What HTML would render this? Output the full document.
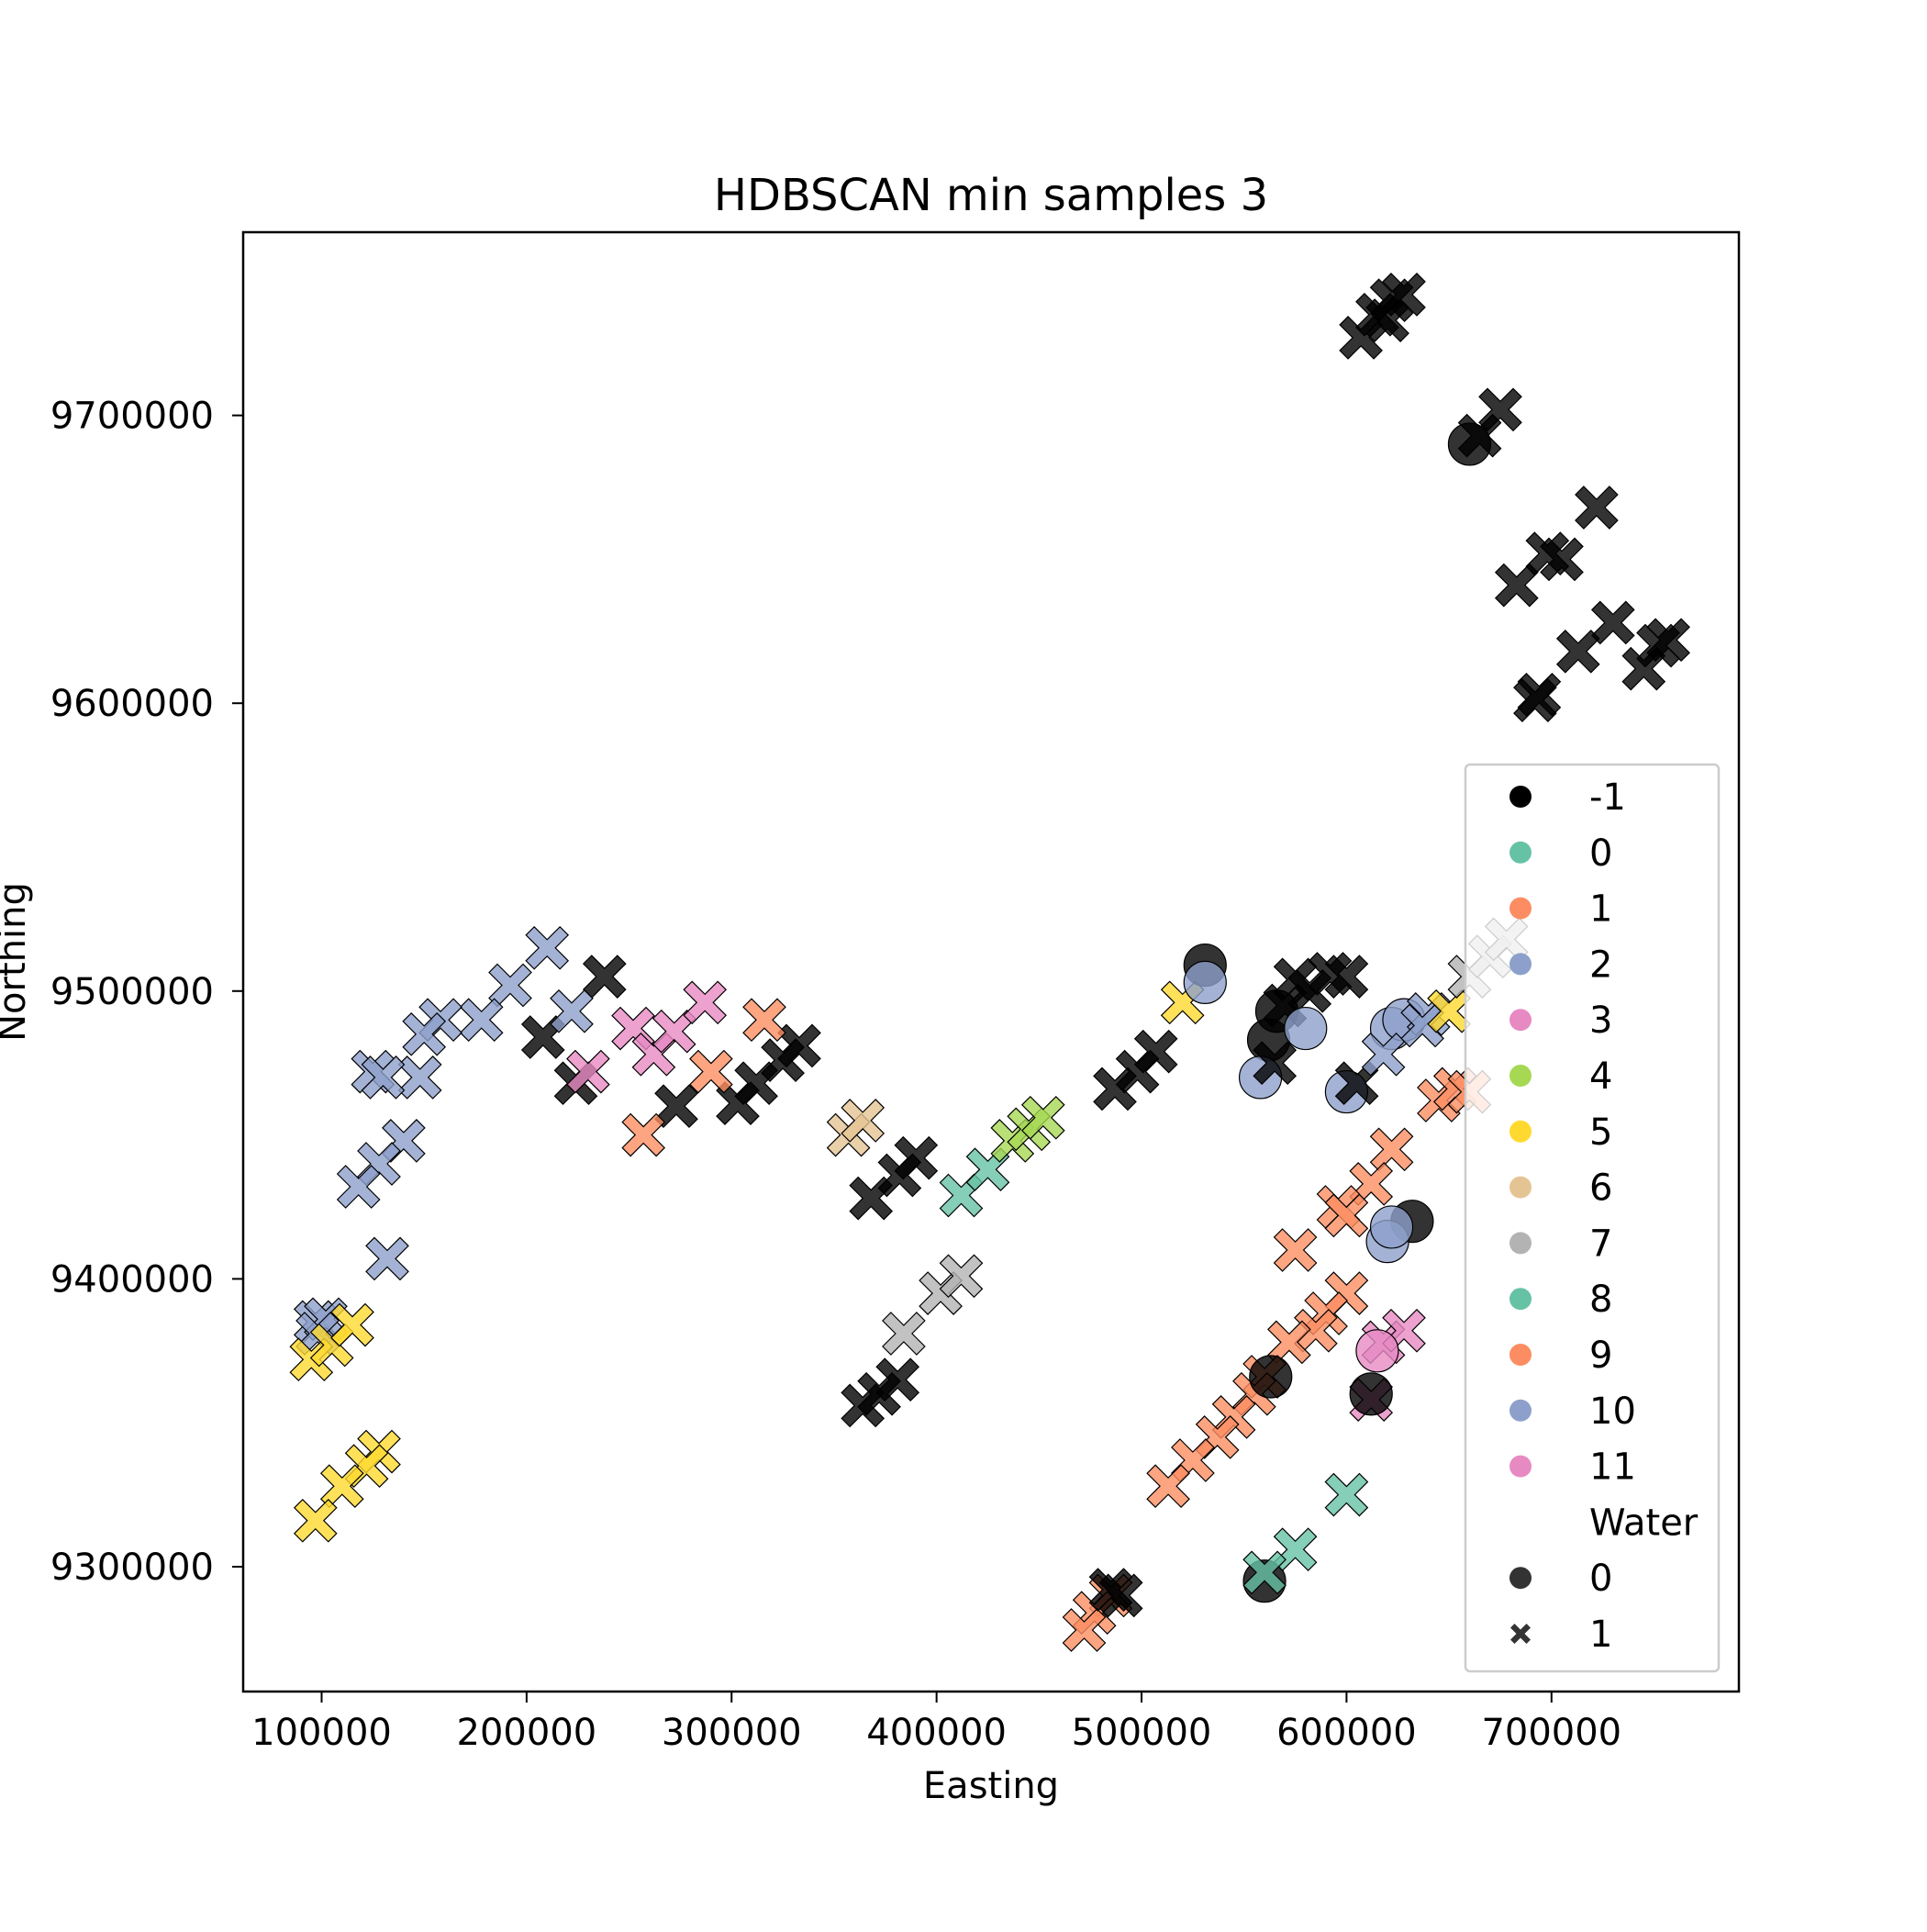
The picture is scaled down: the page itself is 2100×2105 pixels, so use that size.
<!DOCTYPE html>
<html><head><meta charset="utf-8"><style>
body{margin:0;background:#fff}
svg text{font-family:"DejaVu Sans","Liberation Sans",sans-serif;fill:#000}
</style></head><body>
<svg width="2100" height="2100" viewBox="0 0 2100 2100">
<rect width="2100" height="2100" fill="#fff"/>
<text x="1080" y="229" font-size="48" text-anchor="middle">HDBSCAN min samples 3</text>
<g id="marks"></g>
<rect x="265" y="253" width="1630" height="1590" fill="none" stroke="#000" stroke-width="2.5"/>
<g id="ticks"></g>
<text x="1080" y="1959" font-size="40" text-anchor="middle">Easting</text>
<text x="27" y="1048" font-size="40" text-anchor="middle" transform="rotate(-90 27 1048)">Northing</text>
<g id="legend"></g>
</svg>
<script>
const xs=[607,615,622,628,620,660,665,675,683,698,705,722,692,694,713,730,745,752,757,
210,192,178,158,150,148,125,130,140,128,118,132,97,102,98,
95,105,115,128,122,110,97,
208,238,224,273,303,312,325,333,222,
230,252,262,272,287,257,290,316,357,364,
368,382,390,364,372,381,384,402,412,412,425,437,445,452,
487,498,507,520,531,531,575,592,600,582,570,562,566,558,580,600,622,628,565,605,618,640,637,650,660,670,678,
645,653,660,622,612,596,600,575,600,590,585,572,560,555,545,537,525,513,485,477,472,
632,620,622,618,628,612,615,563,612,560,485,490,575,600,560];
const ys=[9727,9735,9740,9742,9733,9690,9693,9702,9641,9652,9650,9668,9601,9603,9618,9628,9612,9620,9622,
9515,9502,9490,9490,9485,9470,9472,9470,9448,9440,9432,9407,9385,9386,9381,
9372,9377,9384,9340,9335,9328,9316,
9484,9505,9468,9460,9461,9468,9476,9481,9493,
9472,9487,9478,9486,9496,9450,9472,9490,9450,9455,
9428,9436,9442,9356,9360,9365,9381,9395,9401,9429,9438,9448,9452,9456,
9466,9472,9479,9496,9509,9503,9504,9506,9505,9500,9495,9483,9493,9470,9487,9465,9487,9490,9475,9468,9478,9492,9488,9493,9505,9512,9518,
9462,9466,9465,9445,9433,9425,9422,9410,9395,9388,9382,9378,9366,9360,9352,9345,9337,9328,9290,9284,9278,
9420,9413,9418,9378,9382,9358,9375,9366,9360,9295,9292,9290,9306,9325,9298];
const labels=[-1,-1,-1,-1,-1,-1,-1,-1,-1,-1,-1,-1,-1,-1,-1,-1,-1,-1,-1,
2,2,2,2,2,2,2,2,2,2,2,2,2,2,2,
5,5,5,5,5,5,5,
-1,-1,-1,-1,-1,-1,-1,-1,2,
3,3,3,3,3,1,1,1,6,6,
-1,-1,-1,-1,-1,-1,7,7,7,8,8,4,4,4,
-1,-1,-1,5,-1,10,-1,-1,-1,-1,-1,-1,-1,10,10,10,10,10,-1,-1,10,10,10,5,7,7,7,
9,9,9,9,9,9,9,9,9,9,9,9,9,9,9,9,9,9,9,9,9,
-1,10,10,11,11,11,11,-1,-1,-1,-1,-1,0,0,0];
const water=[1,1,1,1,1,0,1,1,1,1,1,1,1,1,1,1,1,1,1,
1,1,1,1,1,1,1,1,1,1,1,1,1,1,1,
1,1,1,1,1,1,1,
1,1,1,1,1,1,1,1,1,
1,1,1,1,1,1,1,1,1,1,
1,1,1,1,1,1,1,1,1,1,1,1,1,1,
1,1,1,1,0,0,1,1,1,1,1,0,0,0,0,0,0,0,1,1,1,1,1,1,1,1,1,
1,1,1,1,1,1,1,1,1,1,1,1,1,1,1,1,1,1,1,1,1,
0,0,0,1,1,1,0,0,0,0,1,1,1,1,1];
const legendLabels=["-1","0","1","2","3","4","5","6","7","8","9","10","11"];
const xTicks=[100000,200000,300000,400000,500000,600000,700000];
const yTicks=[9300000,9400000,9500000,9600000,9700000];
const pal={"-1":"#000000","0":"#66c2a5","1":"#fc8d62","2":"#8da0cb","3":"#e78ac3","4":"#a6d854","5":"#ffd92f","6":"#e5c494","7":"#b3b3b3","8":"#66c2a5","9":"#fc8d62","10":"#8da0cb","11":"#e78ac3"};
const NS="http://www.w3.org/2000/svg";
const X=v=>350.5+(v-100000)*(1690.8-350.5)/600000;
const Y=v=>452.6+(9700000-v)*(1707-452.6)/400000;
function xPath(cx,cy,s,w){const p=[[-s+w,-s],[0,-w],[s-w,-s],[s,-s+w],[w,0],[s,s-w],[s-w,s],[0,w],[-s+w,s],[-s,s-w],[-w,0],[-s,-s+w]];
return "M"+p.map(q=>(cx+q[0]).toFixed(1)+","+(cy+q[1]).toFixed(1)).join("L")+"Z";}
function marker(g,cx,cy,isX,color,big){
let el;
if(isX){el=document.createElementNS(NS,"path");el.setAttribute("d",xPath(cx,cy,big?23:11,big?9:4.5));}
else{el=document.createElementNS(NS,"circle");el.setAttribute("cx",cx);el.setAttribute("cy",cy);el.setAttribute("r",big?23:12);}
el.setAttribute("fill",color);el.setAttribute("fill-opacity",big?0.8:1);
el.setAttribute("stroke","#000");el.setAttribute("stroke-width",big?1.2:0);
g.appendChild(el);return el;}
const marks=document.getElementById("marks");
for(let i=0;i<xs.length;i++){
const el=marker(marks,X(xs[i]*1000),Y(ys[i]*1000),water[i]===1,pal[labels[i]],true);


}
const tk=document.getElementById("ticks");
function line(x1,y1,x2,y2){const l=document.createElementNS(NS,"line");l.setAttribute("x1",x1);l.setAttribute("y1",y1);l.setAttribute("x2",x2);l.setAttribute("y2",y2);l.setAttribute("stroke","#000");l.setAttribute("stroke-width",2);tk.appendChild(l);return l;}
function txt(g,x,y,s,size,anchor){const t=document.createElementNS(NS,"text");t.setAttribute("x",x);t.setAttribute("y",y);t.setAttribute("font-size",size);t.setAttribute("text-anchor",anchor);t.textContent=s;g.appendChild(t);return t;}
xTicks.forEach(v=>{const x=X(v);
const l=line(x,1843,x,1855);


const t=txt(tk,x,1901,String(v),40,"middle");

});
yTicks.forEach(v=>{const y=Y(v);
const l=line(253,y,265,y);


const t=txt(tk,233,y+14,String(v),40,"end");

});
const lg=document.getElementById("legend");
const box=document.createElementNS(NS,"rect");
box.setAttribute("x",1597);box.setAttribute("y",833);box.setAttribute("width",276);box.setAttribute("height",988);box.setAttribute("rx",5);
box.setAttribute("fill","#fff");box.setAttribute("fill-opacity",0.8);box.setAttribute("stroke","#ccc");box.setAttribute("stroke-width",2.5);


lg.appendChild(box);
const step=60.8;
legendLabels.forEach((lab,i)=>{const y=868+i*step;
const m=marker(lg,1657,y,false,pal[lab],false);


const t=txt(lg,1732,y+14,lab,40,"start");

});
const wt=txt(lg,1732,868+13*step+14,"Water",40,"start");


[["0",false],["1",true]].forEach((e,j)=>{const y=868+(14+j)*step;
const m=marker(lg,1657,y,e[1],"#333",false);


const t=txt(lg,1732,y+14,e[0],40,"start");

});
</script>
</body></html>
